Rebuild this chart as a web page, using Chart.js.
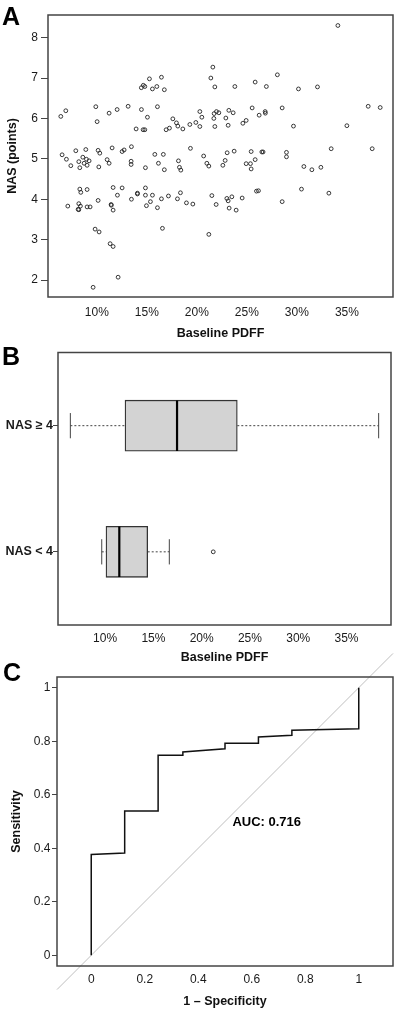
<!DOCTYPE html>
<html><head><meta charset="utf-8">
<script src="https://cdn.jsdelivr.net/npm/chart.js@4.4.1/dist/chart.umd.min.js"></script>
<style>
html,body{margin:0;padding:0;background:#fff;width:400px;height:1015px;overflow:hidden;position:relative}
canvas{position:absolute;left:0}
</style></head><body>
<canvas id="cA" style="top:0px;width:400px;height:345px" width="400" height="345"></canvas>
<canvas id="cB" style="top:345px;width:400px;height:320px" width="400" height="320"></canvas>
<canvas id="cC" style="top:640px;width:400px;height:375px" width="400" height="375"></canvas>
<script>
// ---------- Panel A data ----------
const scatterPDFF = [
 34.1,21.6,21.4,21.8,28.05,25.83,26.95,23.8,30.16,32.06,16.46,15.26,14.45,14.65,14.8,15.56,16.0,16.75,
 6.4,6.9,9.9,10.03,11.23,12.03,13.13,14.46,15.06,16.06,13.93,14.63,14.8,16.93,17.26,17.6,17.96,18.1,18.6,19.3,
 19.9,20.3,20.5,20.3,21.73,21.96,22.2,21.7,21.8,22.9,23.2,23.63,23.13,24.6,24.93,25.53,26.23,26.83,26.85,28.53,
 29.66,35.0,37.13,38.33,
 6.53,7.9,8.9,10.13,10.3,11.53,12.53,12.73,13.46,15.8,16.65,19.36,20.68,23.03,23.73,25.43,26.5,26.62,28.96,28.96,
 33.43,37.53,
 6.96,7.4,8.2,8.3,8.6,8.73,8.96,9.03,9.23,10.2,11.03,11.23,13.43,13.43,14.86,16.16,16.75,18.16,18.26,18.4,
 21.0,21.2,22.6,22.83,24.93,25.36,25.43,25.83,30.7,31.5,32.4,
 8.3,8.4,9.03,11.63,12.53,12.06,10.13,7.1,8.2,8.13,8.2,8.36,9.03,9.33,11.43,11.45,11.63,13.46,14.06,14.06,
 14.86,14.86,15.56,15.36,14.96,16.46,16.06,17.16,18.06,18.36,18.96,19.6,21.5,21.93,23.0,23.13,23.5,23.23,23.93,24.53,
 25.96,26.16,30.46,33.2,28.53,
 16.56,9.83,10.23,11.33,11.63,12.13,9.63,21.2];
const scatterNAS = [
 8.30,7.27,7.0,6.78,7.08,6.90,6.79,6.79,6.73,6.78,7.02,6.98,6.76,6.82,6.79,6.73,6.79,6.71,
 6.05,6.19,6.29,5.92,6.13,6.22,6.30,6.22,6.03,6.29,5.74,5.72,5.72,5.72,5.76,5.99,5.89,5.81,5.74,5.85,
 5.90,6.17,6.03,5.80,6.12,6.17,6.14,6.0,5.80,6.01,6.20,6.14,5.83,5.88,5.95,6.26,6.08,6.17,6.13,6.26,
 5.81,5.82,6.30,6.27,
 5.10,5.20,5.23,5.21,5.14,5.27,5.18,5.22,5.30,5.11,5.11,5.26,5.07,5.15,5.19,5.18,5.17,5.17,5.16,5.05,
 5.25,5.25,
 4.99,4.83,4.93,4.78,5.04,4.89,4.99,4.84,4.95,4.80,4.98,4.89,4.94,4.86,4.78,4.89,4.73,4.95,4.79,4.72,
 4.89,4.82,4.84,4.96,4.88,4.88,4.75,4.98,4.81,4.73,4.79,
 4.25,4.17,4.24,4.29,4.28,4.10,3.97,3.83,3.89,3.75,3.74,3.83,3.81,3.81,3.87,3.85,3.73,4.0,4.15,4.13,
 4.28,4.10,4.10,3.94,3.84,4.01,3.79,4.08,4.01,4.16,3.91,3.88,4.09,3.87,4.02,3.96,4.06,3.78,3.73,4.03,
 4.20,4.21,4.25,4.15,3.94,
 3.28,3.26,3.19,2.90,2.83,2.07,1.82,3.13];
const pdffTicks = [10,15,20,25,30,35];
const nasTicks = [2,3,4,5,6,7,8];

// ---------- Panel B data ----------
const boxGroups = ['NAS ≥ 4','NAS < 4'];
const boxPos = [2,1];
const whiskerLow = [6.4, 9.65];
const quart1 = [12.06, 10.09];
const medians = [17.45, 11.47];
const quart3 = [23.69, 14.41];
const whiskerHigh = [38.33, 16.65];
const outlierPDFF = [21.2];
const outlierPos = [1];

// ---------- Panel C data ----------
const rocFPR = [0, 0, 0.125, 0.125, 0.25, 0.25, 0.3425, 0.3425, 0.5, 0.5, 0.625, 0.625, 0.75, 0.75, 1, 1];
const rocTPR = [0, 0.377, 0.382, 0.539, 0.539, 0.748, 0.748, 0.760, 0.772, 0.792, 0.792, 0.816, 0.822, 0.841, 0.847, 1];
const rocTicks = [0, 0.2, 0.4, 0.6, 0.8, 1];
const aucLabel = 'AUC: 0.716';

const F = '"Liberation Sans", Arial, Helvetica, sans-serif';
Chart.defaults.font.family = F;
Chart.defaults.color = '#1a1a1a';

const framePlugin = {
  id: 'frame',
  afterDatasetsDraw(chart) {
    const {ctx, chartArea: a} = chart;
    ctx.save();
    ctx.strokeStyle = '#444';
    ctx.lineWidth = 1.5;
    ctx.strokeRect(a.left, a.top, a.right - a.left, a.bottom - a.top);
    ctx.restore();
  }
};
const labelPlugin = {
  id: 'panelLabel',
  afterDraw(chart, args, opts) {
    if (!opts || !opts.text) return;
    const ctx = chart.ctx;
    ctx.save();
    ctx.font = 'bold 25px ' + F;
    ctx.fillStyle = '#000';
    ctx.textAlign = 'left';
    ctx.textBaseline = 'alphabetic';
    ctx.fillText(opts.text, opts.x, opts.y);
    if (opts.note) {
      ctx.font = 'bold 13px ' + F;
      ctx.textAlign = 'center';
      ctx.textBaseline = 'middle';
      ctx.fillText(opts.note, chart.scales.x.getPixelForValue(opts.noteX), chart.scales.y.getPixelForValue(opts.noteY));
    }
    ctx.restore();
  }
};
Chart.register(framePlugin, labelPlugin);

const tickFont = {size: 12, family: F};
const titleFont = {size: 12.5, weight: 'bold', family: F};
const setTicks = arr => (s => { s.ticks = arr.map(v => ({value: v})); });

function xAxis(min, max, ticks, fmt, height, pad, title, titlePad) {
  return {
    type: 'linear', min, max, offset: false,
    afterBuildTicks: setTicks(ticks),
    afterFit: s => { s.height = height; },
    grid: {display: false, drawTicks: false, offset: false},
    border: {display: false},
    ticks: {padding: pad, font: tickFont, color: '#1a1a1a', callback: fmt, maxRotation: 0, autoSkip: false},
    title: {display: true, text: title, font: titleFont, color: '#111', padding: {top: 0, bottom: titlePad}}
  };
}
function yAxis(min, max, ticks, fmt, width, tl, pad, font, title, titlePad) {
  return {
    type: 'linear', min, max, offset: false,
    afterBuildTicks: setTicks(ticks),
    afterFit: s => { s.width = width; },
    grid: {display: true, drawOnChartArea: false, drawTicks: true, tickLength: tl, color: '#444', lineWidth: 1, offset: false},
    border: {display: false},
    ticks: {padding: pad, font, color: '#1a1a1a', callback: fmt, autoSkip: false},
    title: title ? {display: true, text: title, font: titleFont, color: '#111', padding: {top: titlePad, bottom: 0}} : {display: false}
  };
}
const common = {responsive: false, animation: false, events: []};

// ---------- Chart A ----------
new Chart(document.getElementById('cA'), {
  type: 'scatter',
  data: {datasets: [{
    data: scatterPDFF.map((x, i) => ({x, y: scatterNAS[i]})),
    pointRadius: 1.9, pointHoverRadius: 1.9, borderWidth: 0.9,
    borderColor: '#222', backgroundColor: 'rgba(0,0,0,0)'
  }]},
  options: {...common,
    layout: {padding: {left: 0, right: 7, top: 15, bottom: 0}},
    plugins: {legend: {display: false}, tooltip: {enabled: false}, panelLabel: {text: 'A', x: 2, y: 25}},
    scales: {
      x: xAxis(5.12, 39.61, pdffTicks, v => v + '%', 48, 8, 'Baseline PDFF', 4),
      y: yAxis(1.58, 8.56, nasTicks, v => String(v), 48, 7, 3, tickFont, 'NAS (points)', 5)
    }
  }
});

// ---------- Chart B ----------
const bDatasets = [{
  type: 'bar', indexAxis: 'y',
  data: boxPos.map((p, i) => ({x: [quart1[i], quart3[i]], y: p})),
  backgroundColor: '#d3d3d3', borderColor: '#333', borderWidth: 1.3,
  borderSkipped: false, barThickness: 51, order: 2
}];
const seg = (pts, extra) => Object.assign({type: 'scatter', data: pts, showLine: true, pointRadius: 0,
  borderColor: '#444', borderWidth: 1, fill: false, order: 1}, extra);
boxPos.forEach((p, i) => {
  bDatasets.push(seg([{x: whiskerLow[i], y: p}, {x: quart1[i], y: p}], {borderDash: [2, 2], order: 3}));
  bDatasets.push(seg([{x: quart3[i], y: p}, {x: whiskerHigh[i], y: p}], {borderDash: [2, 2], order: 3}));
  bDatasets.push(seg([{x: whiskerLow[i], y: p - 0.1}, {x: whiskerLow[i], y: p + 0.1}], {}));
  bDatasets.push(seg([{x: whiskerHigh[i], y: p - 0.1}, {x: whiskerHigh[i], y: p + 0.1}], {}));
  bDatasets.push(seg([{x: medians[i], y: p - 0.2}, {x: medians[i], y: p + 0.2}], {borderColor: '#000', borderWidth: 2.2, order: 0}));
});
bDatasets.push({type: 'scatter', data: outlierPDFF.map((x, i) => ({x, y: outlierPos[i]})),
  pointRadius: 1.9, borderWidth: 0.9, borderColor: '#222', backgroundColor: 'rgba(0,0,0,0)', order: 0});

new Chart(document.getElementById('cB'), {
  type: 'scatter',
  data: {datasets: bDatasets},
  options: {...common,
    layout: {padding: {left: 0, right: 9, top: 5, bottom: 0}},
    plugins: {legend: {display: false}, tooltip: {enabled: false}, panelLabel: {text: 'B', x: 2, y: 19.5}},
    scales: {
      x: xAxis(5.12, 39.61, pdffTicks, v => v + '%', 40, 6, 'Baseline PDFF', 0),
      y: yAxis(0.42, 2.58, boxPos, v => boxGroups[boxPos.indexOf(v)], 58, 5, 0,
        {size: 12.5, weight: 'bold', family: F}, null, 0)
    }
  }
});

// ---------- Chart C ----------
new Chart(document.getElementById('cC'), {
  type: 'scatter',
  data: {datasets: [
    {data: [{x: -0.128, y: -0.128}, {x: 1.128, y: 1.128}], showLine: true, pointRadius: 0,
     borderColor: '#b8b8b8', borderWidth: 0.9, clip: false, order: 2},
    {data: rocFPR.map((x, i) => ({x, y: rocTPR[i]})), showLine: true, pointRadius: 0,
     borderColor: '#111', borderWidth: 1.5, tension: 0, order: 1}
  ]},
  options: {...common,
    layout: {padding: {left: 0, right: 7, top: 37, bottom: 0}},
    plugins: {legend: {display: false}, tooltip: {enabled: false},
      panelLabel: {text: 'C', x: 3, y: 40.7, note: aucLabel, noteX: 0.656, noteY: 0.497}},
    scales: {
      x: xAxis(-0.128, 1.128, rocTicks, v => String(v), 49, 6, '1 \u2013 Specificity', 5.8),
      y: yAxis(-0.04, 1.04, rocTicks, v => String(v), 57, 5, 1.5, tickFont, 'Sensitivity', 9)
    }
  }
});
</script>
</body></html>
